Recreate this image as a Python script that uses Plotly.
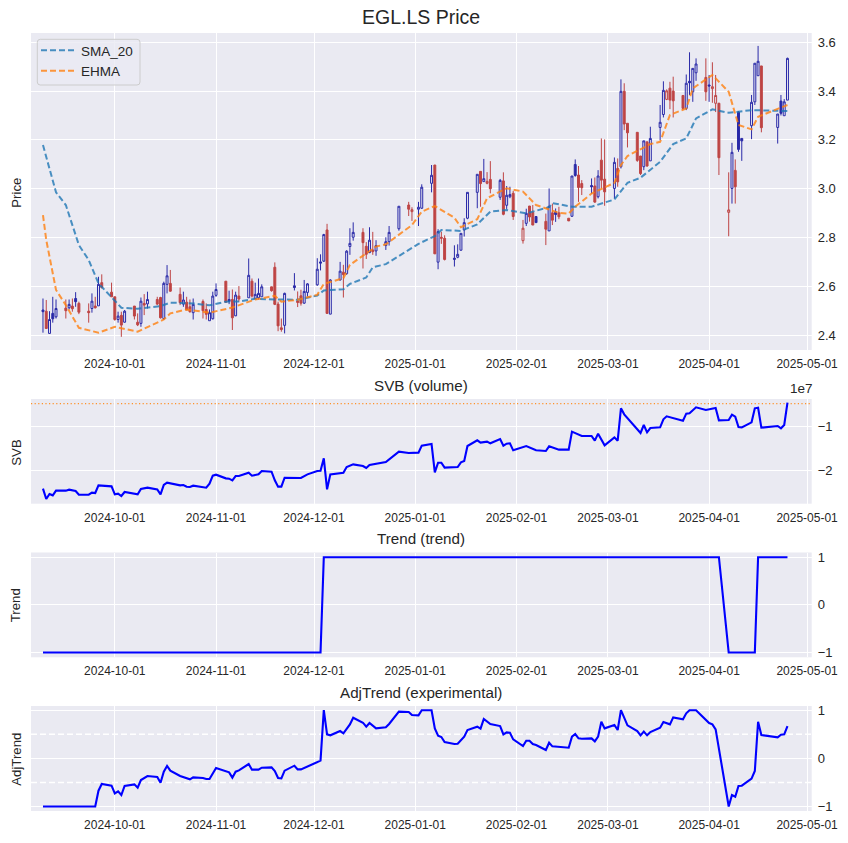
import numpy as np
import pandas as pd
import plotly.graph_objects as go

closed_days = ["2024-12-25", "2024-12-26", "2025-01-01", "2025-04-18", "2025-04-21"]
candle_dates = [d for d in pd.bdate_range("2024-09-09", "2025-04-25").strftime("%Y-%m-%d") if d not in closed_days]

opens = [2.503,2.498,2.407,2.489,2.475, 2.511,2.512,2.519,2.550,2.530, 2.498,2.509,2.519,2.520,2.615,
 2.576,2.557,2.464,2.481,2.453, 2.519,2.453,2.448,2.530,2.528, 2.546,2.554,2.468,2.608,2.612,
 2.567,2.527,2.535,2.516,2.492, 2.538,2.505,2.459,2.467,2.563, 2.621,2.546,2.546,2.479,2.560,
 2.553,2.621,2.550,2.553,2.557, 2.598,2.678,2.527,2.430,2.440, 2.602,2.540,2.561,2.531,2.575,
 2.606,2.700,2.703,2.831,2.486, 2.626,2.658,2.652,2.763,2.801, 2.821,2.764,2.738,2.749,2.745,
 2.767,2.783,2.836, 2.933,2.906,2.916,2.920, 3.022,3.097,2.699,2.801,2.797,
 2.715,2.719,2.748,2.831,2.879, 2.985,3.071,3.029,3.022,3.038, 2.965,3.032,2.932,2.967,2.981,
 2.787,2.858,2.929,2.903,2.886, 2.866,2.827,2.901,2.905,2.901, 2.879,2.887,3.099,3.056,3.021,
 3.013,3.011,2.967,3.117,3.039, 3.001,3.083,3.090,3.399,3.268, 3.231,3.134,3.090,3.192,3.114,
 3.251,3.304,3.366,3.412,3.400, 3.382,3.329,3.440,3.397,3.475, 3.456,3.425,3.410,3.350,3.350,
 2.903,3.001,3.075,3.314,3.206, 3.258,3.356,3.463,3.503, 3.251,3.359,3.299,3.363]
highs = [2.550,2.544,2.498,2.557,2.546, 2.546,2.546,2.550,2.576,2.537, 2.530,2.571,2.557,2.639,2.649,
 2.615,2.557,2.496,2.496,2.503, 2.519,2.489,2.554,2.568,2.578, 2.557,2.557,2.619,2.687,2.667,
 2.595,2.578,2.557,2.546,2.550, 2.546,2.530,2.505,2.578,2.612, 2.621,2.582,2.587,2.578,2.601,
 2.714,2.632,2.615,2.632,2.608, 2.598,2.698,2.537,2.468,2.574, 2.654,2.579,2.586,2.626,2.613,
 2.715,2.731,2.815,2.856,2.629, 2.700,2.688,2.748,2.838,2.862, 2.838,2.781,2.842,2.823,2.789,
 2.801,2.847,2.928, 2.946,2.924,2.946,3.018, 3.097,3.097,2.834,2.824,2.809,
 2.768,2.772,2.817,2.879,2.985, 3.059,3.071,3.122,3.068,3.113, 3.040,3.067,3.011,3.008,2.991,
 2.872,2.918,2.929,2.933,2.886, 2.898,3.001,2.939,2.919,2.926, 2.879,3.052,3.120,3.093,3.035,
 3.042,3.046,3.076,3.206,3.202, 3.128,3.124,3.448,3.432,3.268, 3.231,3.134,3.196,3.192,3.254,
 3.343,3.440,3.407,3.438,3.459, 3.382,3.468,3.559,3.493,3.534, 3.534,3.466,3.518,3.466,3.352,
 3.067,3.188,3.120,3.318,3.206, 3.384,3.514,3.585,3.503, 3.306,3.384,3.367,3.537]
lows = [2.410,2.427,2.407,2.451,2.468, 2.468,2.505,2.496,2.516,2.486, 2.451,2.492,2.509,2.520,2.591,
 2.557,2.459,2.451,2.393,2.451, 2.464,2.437,2.434,2.482,2.509, 2.523,2.468,2.462,2.571,2.578,
 2.523,2.516,2.503,2.492,2.464, 2.468,2.464,2.459,2.464,2.557, 2.533,2.527,2.421,2.478,2.537,
 2.553,2.554,2.546,2.546,2.557, 2.578,2.523,2.416,2.414,2.407, 2.583,2.515,2.521,2.528,2.558,
 2.602,2.665,2.700,2.489,2.486, 2.624,2.554,2.647,2.729,2.787, 2.673,2.712,2.736,2.729,2.725,
 2.749,2.767,2.828, 2.888,2.868,2.847,2.917, 2.985,2.733,2.670,2.774,2.706,
 2.681,2.715,2.746,2.804,2.875, 2.920,2.926,3.029,3.018,2.981, 2.954,2.891,2.917,2.961,2.872,
 2.775,2.847,2.865,2.851,2.861, 2.769,2.827,2.851,2.864,2.875, 2.868,2.885,3.049,2.946,2.974,
 2.980,2.942,2.960,3.001,2.930, 2.960,3.008,3.083,3.240,3.169, 3.110,3.056,3.076,3.090,3.114,
 3.199,3.292,3.363,3.326,3.292, 3.322,3.322,3.384,3.356,3.442, 3.360,3.356,3.352,3.314,3.056,
 2.805,2.939,2.939,3.151,3.114, 3.203,3.343,3.463,3.231, 3.185,3.300,3.299,3.363]
closes = [2.496,2.427,2.464,2.467,2.509, 2.500,2.526,2.508,2.537,2.494, 2.492,2.539,2.512,2.608,2.595,
 2.557,2.464,2.478,2.441,2.498, 2.478,2.442,2.539,2.523,2.546, 2.527,2.471,2.612,2.643,2.580,
 2.533,2.544,2.503,2.496,2.526, 2.500,2.485,2.492,2.560,2.587, 2.535,2.538,2.471,2.564,2.548,
 2.645,2.560,2.567,2.571,2.598, 2.582,2.526,2.438,2.423,2.571, 2.595,2.534,2.531,2.579,2.610,
 2.670,2.695,2.812,2.489,2.626, 2.662,2.648,2.744,2.776,2.821, 2.779,2.731,2.789,2.742,2.767,
 2.783,2.821,2.928, 2.916,2.914,2.924,3.006, 3.055,2.733,2.824,2.797,2.710,
 2.711,2.731,2.817,2.861,2.985, 3.059,3.021,3.041,3.030,3.000, 3.034,2.895,2.973,2.976,2.886,
 2.838,2.899,2.884,2.851,2.861, 2.834,2.928,2.871,2.894,2.885, 2.868,3.052,3.054,3.005,3.004,
 3.008,2.945,3.052,3.035,2.987, 3.108,3.028,3.399,3.265,3.229, 3.116,3.062,3.196,3.093,3.206,
 3.272,3.403,3.401,3.363,3.360, 3.329,3.432,3.434,3.493,3.511, 3.397,3.421,3.418,3.382,3.127,
 2.913,3.149,3.008,3.161,3.196, 3.354,3.514,3.522,3.250, 3.306,3.309,3.356,3.534]

sma_dates = ["2024-09-09","2024-09-13","2024-09-16","2024-09-20","2024-09-23","2024-09-26","2024-10-01","2024-10-03",
 "2024-10-08","2024-10-15","2024-10-18","2024-10-25","2024-10-30","2024-11-04","2024-11-08","2024-11-13","2024-11-19",
 "2024-11-22","2024-11-26","2024-12-02","2024-12-04","2024-12-10","2024-12-12","2024-12-17","2024-12-19","2024-12-23",
 "2024-12-27","2025-01-02","2025-01-07","2025-01-09","2025-01-15","2025-01-20","2025-01-24","2025-01-29","2025-02-04",
 "2025-02-11","2025-02-12","2025-02-18","2025-02-24","2025-03-03","2025-03-07","2025-03-11","2025-03-17","2025-03-21",
 "2025-03-25","2025-03-28","2025-04-02","2025-04-07","2025-04-14","2025-04-25"]
sma_values = [3.179,2.985,2.933,2.769,2.708,2.612,2.541,2.512,
 2.508,2.519,2.533,2.530,2.522,2.537,2.538,2.549,2.546,
 2.546,2.545,2.562,2.583,2.588,2.610,2.636,2.678,2.691,
 2.725,2.774,2.806,2.831,2.827,2.854,2.906,2.913,2.899,
 2.924,2.941,2.926,2.926,2.956,3.024,3.045,3.110,3.183,
 3.206,3.288,3.325,3.311,3.322,3.318]

ehma_dates = ["2024-09-09","2024-09-10","2024-09-13","2024-09-16","2024-09-20","2024-09-26","2024-10-01","2024-10-08",
 "2024-10-16","2024-10-18","2024-10-23","2024-10-30","2024-11-06","2024-11-13","2024-11-19","2024-11-21","2024-11-26",
 "2024-12-02","2024-12-04","2024-12-10","2024-12-12","2024-12-17","2024-12-20","2024-12-23","2024-12-31","2025-01-03",
 "2025-01-07","2025-01-13","2025-01-15","2025-01-20","2025-01-23","2025-01-29","2025-02-03","2025-02-07","2025-02-14",
 "2025-02-17","2025-02-19","2025-02-24","2025-03-03","2025-03-05","2025-03-07","2025-03-14","2025-03-17","2025-03-20",
 "2025-03-25","2025-03-27","2025-03-31","2025-04-02","2025-04-07","2025-04-10","2025-04-14","2025-04-16","2025-04-25"]
ehma_values = [2.892,2.790,2.585,2.523,2.430,2.410,2.434,2.414,
 2.464,2.489,2.505,2.492,2.513,2.546,2.561,2.537,2.545,
 2.565,2.610,2.633,2.688,2.733,2.763,2.772,2.851,2.906,
 2.929,2.881,2.842,2.875,2.961,3.002,2.988,2.933,2.901,
 2.898,2.926,2.980,3.024,3.097,3.134,3.183,3.192,3.302,
 3.329,3.411,3.448,3.466,3.397,3.261,3.243,3.295,3.343]

svb_dates = ["2024-09-09","2024-09-10","2024-09-11","2024-09-12","2024-09-13","2024-09-16","2024-09-17","2024-09-19","2024-09-20",
 "2024-09-23","2024-09-24","2024-09-25","2024-09-26","2024-09-30","2024-10-01","2024-10-02","2024-10-03","2024-10-04",
 "2024-10-08","2024-10-09","2024-10-11","2024-10-14","2024-10-15","2024-10-16","2024-10-17","2024-10-21","2024-10-22",
 "2024-10-23","2024-10-24","2024-10-25","2024-10-29","2024-10-30","2024-10-31","2024-11-01","2024-11-04","2024-11-05",
 "2024-11-06","2024-11-07","2024-11-08","2024-11-11","2024-11-12","2024-11-14","2024-11-15","2024-11-18","2024-11-19",
 "2024-11-20","2024-11-21","2024-11-22","2024-11-27","2024-11-29","2024-12-02","2024-12-03","2024-12-04","2024-12-05",
 "2024-12-06","2024-12-09","2024-12-10","2024-12-11","2024-12-13","2024-12-16","2024-12-17","2024-12-18","2024-12-20",
 "2024-12-23","2024-12-27","2024-12-30","2025-01-02","2025-01-03",
 "2025-01-06","2025-01-07","2025-01-08","2025-01-09","2025-01-10","2025-01-13","2025-01-14","2025-01-15","2025-01-16",
 "2025-01-17","2025-01-20","2025-01-21","2025-01-23","2025-01-24","2025-01-27","2025-01-28","2025-01-29","2025-01-30",
 "2025-01-31","2025-02-04","2025-02-06","2025-02-07","2025-02-10","2025-02-11","2025-02-14","2025-02-17","2025-02-18",
 "2025-02-21","2025-02-24","2025-02-25","2025-02-26","2025-02-28","2025-03-03","2025-03-04","2025-03-05","2025-03-06",
 "2025-03-11","2025-03-12","2025-03-13","2025-03-14","2025-03-17","2025-03-18","2025-03-19","2025-03-24","2025-03-25",
 "2025-03-26","2025-03-28","2025-03-31","2025-04-03","2025-04-04","2025-04-07","2025-04-08","2025-04-09","2025-04-10",
 "2025-04-11","2025-04-14","2025-04-15","2025-04-16","2025-04-17","2025-04-22","2025-04-23","2025-04-24","2025-04-25"]
svb_values_e7 = [-2.417,-2.652,-2.538,-2.568,-2.462,-2.462,-2.439,-2.470,-2.553,
 -2.553,-2.508,-2.515,-2.341,-2.364,-2.545,-2.530,-2.583,-2.492,
 -2.545,-2.424,-2.394,-2.432,-2.545,-2.333,-2.280,-2.341,-2.333,
 -2.371,-2.379,-2.348,-2.394,-2.303,-2.121,-2.098,-2.182,-2.189,
 -2.227,-2.129,-2.129,-2.053,-2.121,-2.091,-2.015,-2.030,-2.227,
 -2.371,-2.371,-2.167,-2.174,-2.091,-2.015,-2.008,-1.727,-2.432,
 -2.091,-2.068,-2.053,-1.924,-1.864,-1.902,-1.947,-1.879,-1.848,
 -1.811,-1.576,-1.606,-1.598,-1.439,
 -1.402,-2.045,-1.826,-1.826,-1.939,-1.932,-1.924,-1.818,-1.788,
 -1.447,-1.318,-1.371,-1.348,-1.386,-1.288,-1.439,-1.394,-1.386,
 -1.545,-1.447,-1.515,-1.545,-1.561,-1.455,-1.530,-1.530,-1.121,
 -1.220,-1.220,-1.326,-1.167,-1.432,-1.250,-1.326,-0.591,-0.727,
 -1.152,-0.970,-1.136,-1.038,-1.023,-0.841,-0.773,-0.871,-0.712,
 -0.705,-0.568,-0.629,-0.583,-0.864,-0.856,-0.735,-0.780,-1.015,
 -1.023,-0.909,-0.591,-0.576,-1.030,-0.992,-1.045,-0.970,-0.462]
svb_level_e7 = -0.485

trend_dates = ["2024-09-09","2024-12-03","2024-12-04","2025-04-04","2025-04-07","2025-04-15","2025-04-16","2025-04-25"]
trend_values = [-1, -1, 1, 1, -1, -1, 1, 1]

adj_dates = ["2024-09-09","2024-09-25","2024-09-26","2024-09-27","2024-09-30","2024-10-01","2024-10-02","2024-10-03","2024-10-04",
 "2024-10-07","2024-10-08","2024-10-09","2024-10-11","2024-10-14","2024-10-15","2024-10-16","2024-10-17","2024-10-18",
 "2024-10-21","2024-10-23","2024-10-24","2024-10-25","2024-10-28","2024-10-29","2024-10-30","2024-11-01","2024-11-05",
 "2024-11-06","2024-11-07","2024-11-08","2024-11-11","2024-11-12","2024-11-14","2024-11-15","2024-11-18","2024-11-19",
 "2024-11-20","2024-11-21","2024-11-22","2024-11-25","2024-11-26","2024-11-27","2024-12-03","2024-12-04","2024-12-05",
 "2024-12-06","2024-12-09","2024-12-10","2024-12-12","2024-12-13","2024-12-16","2024-12-17","2024-12-18","2024-12-20",
 "2024-12-23","2024-12-24","2024-12-27","2024-12-30","2024-12-31","2025-01-02","2025-01-03",
 "2025-01-06","2025-01-07","2025-01-08","2025-01-09","2025-01-10","2025-01-13","2025-01-14","2025-01-16","2025-01-17",
 "2025-01-20","2025-01-21","2025-01-22","2025-01-24","2025-01-27","2025-01-28","2025-01-29","2025-01-30","2025-01-31",
 "2025-02-03","2025-02-04","2025-02-05","2025-02-06","2025-02-07","2025-02-10","2025-02-11","2025-02-12","2025-02-17",
 "2025-02-18","2025-02-19","2025-02-20","2025-02-21","2025-02-24","2025-02-25","2025-02-26","2025-02-27","2025-02-28",
 "2025-03-03","2025-03-04","2025-03-05","2025-03-07","2025-03-10","2025-03-11","2025-03-12","2025-03-13","2025-03-14",
 "2025-03-17","2025-03-18","2025-03-20","2025-03-21","2025-03-24","2025-03-25","2025-03-26","2025-03-28","2025-04-01",
 "2025-04-02","2025-04-03","2025-04-07","2025-04-08","2025-04-09","2025-04-10","2025-04-11","2025-04-14","2025-04-15",
 "2025-04-16","2025-04-17","2025-04-22","2025-04-23","2025-04-24","2025-04-25"]
adj_values = [-1,-1,-0.671,-0.533,-0.567,-0.727,-0.685,-0.761,-0.574,
 -0.540,-0.609,-0.450,-0.367,-0.388,-0.505,-0.277,-0.159,-0.256,
 -0.367,-0.422,-0.436,-0.394,-0.408,-0.429,-0.429,-0.201,-0.291,
 -0.401,-0.277,-0.249,-0.118,-0.235,-0.235,-0.194,-0.187,-0.263,
 -0.408,-0.415,-0.256,-0.152,-0.228,-0.228,-0.048,1.0,0.498,
 0.478,0.567,0.519,0.706,0.844,0.740,0.657,0.734,0.623,
 0.644,0.713,0.969,0.962,0.900,0.893,1.0,
 1.0,0.623,0.471,0.443,0.339,0.298,0.304,0.450,0.588,
 0.657,0.616,0.817,0.713,0.671,0.498,0.540,0.533,0.394,
 0.256,0.367,0.367,0.298,0.277,0.173,0.325,0.249,0.221,
 0.450,0.505,0.415,0.408,0.415,0.353,0.450,0.761,0.623,
 0.692,0.588,1.0,0.685,0.567,0.478,0.554,0.478,0.547,
 0.637,0.754,0.706,0.851,0.810,0.934,1.0,1.0,0.734,
 0.706,0.602,-1.0,-0.761,-0.796,-0.574,-0.567,-0.422,-0.263,
 0.761,0.484,0.436,0.491,0.498,0.671]

date_ticks = ["2024-10-01","2024-11-01","2024-12-01","2025-01-01","2025-02-01","2025-03-01","2025-04-01","2025-05-01"]
x_range = ["2024-09-05 08:00", "2025-05-02 10:00"]

W, H = 848, 843
TXT = "#262626"
BG = "#EAEAF2"
BLUE_C = "#2A2AA8"
RED_C = "#BE4444"
FONT = "Liberation Sans"

closes_arr = np.array(closes)
rising = np.r_[True, closes_arr[1:] > closes_arr[:-1]]

def candle(mask, col):
    idx = np.where(mask)[0]
    return go.Candlestick(
        x=[candle_dates[i] for i in idx],
        open=[opens[i] for i in idx], high=[highs[i] for i in idx],
        low=[lows[i] for i in idx], close=[closes[i] for i in idx],
        increasing=dict(line=dict(color=col, width=1), fillcolor="rgba(0,0,0,0)"),
        decreasing=dict(line=dict(color=col, width=1), fillcolor=col),
        whiskerwidth=0, showlegend=False, xaxis="x", yaxis="y", hoverinfo="skip")

fig = go.Figure()
fig.add_trace(candle(rising, BLUE_C))
fig.add_trace(candle(~rising, RED_C))
fig.add_trace(go.Scatter(x=sma_dates, y=sma_values, name="SMA_20", mode="lines",
    line=dict(color="rgba(31,119,180,0.8)", width=2, dash="6px,3px")))
fig.add_trace(go.Scatter(x=ehma_dates, y=ehma_values, name="EHMA", mode="lines",
    line=dict(color="rgba(255,127,14,0.8)", width=2, dash="6px,3px")))
fig.add_trace(go.Scatter(x=svb_dates, y=np.array(svb_values_e7) * 1e7, mode="lines", showlegend=False,
    line=dict(color="#0000FF", width=2.1), xaxis="x2", yaxis="y2"))
fig.add_trace(go.Scatter(x=trend_dates, y=trend_values, mode="lines", showlegend=False,
    line=dict(color="#0000FF", width=2.1), xaxis="x3", yaxis="y3"))
fig.add_trace(go.Scatter(x=adj_dates, y=adj_values, mode="lines", showlegend=False,
    line=dict(color="#0000FF", width=2.1), xaxis="x4", yaxis="y4"))

def dom(top, bottom):
    return [(H - bottom) / H, (H - top) / H]

x_dom = [31 / W, 811.7 / W]
xkw = dict(range=x_range, type="date", tickvals=date_ticks, tickformat="%Y-%m-%d", automargin=False,
           showgrid=True, gridcolor="white", gridwidth=1.3, zeroline=False, showline=False, ticks="",
           ticklabelstandoff=5,
           tickfont=dict(size=12, color=TXT, family=FONT), domain=x_dom, rangeslider=dict(visible=False))
ykw = dict(side="right", showgrid=True, gridcolor="white", gridwidth=1.3, zeroline=False, showline=False,
           automargin=False, ticks="", ticklabelstandoff=5, tickfont=dict(size=13, color=TXT, family=FONT))

fig.update_layout(
    width=W, height=H, margin=dict(l=0, r=0, t=0, b=0, autoexpand=False), autosize=False,
    paper_bgcolor="white", plot_bgcolor=BG, font=dict(family=FONT, color=TXT),
    boxmode="overlay", boxgap=0.15,
    xaxis=dict(**xkw, anchor="y"), xaxis2=dict(**xkw, anchor="y2"),
    xaxis3=dict(**xkw, anchor="y3"), xaxis4=dict(**xkw, anchor="y4"),
    yaxis=dict(**ykw, domain=dom(33, 350), range=[2.339, 3.638], anchor="x",
               tickvals=[2.4, 2.6, 2.8, 3.0, 3.2, 3.4, 3.6], tickformat=".1f"),
    yaxis2=dict(**ykw, domain=dom(399, 503.7), range=[-2.758e7, -0.379e7], anchor="x2",
                tickvals=[-2e7, -1e7], ticktext=["\u22122", "\u22121"]),
    yaxis3=dict(**ykw, domain=dom(552.5, 657.3), range=[-1.1, 1.1], anchor="x3",
                tickvals=[-1, 0, 1], ticktext=["\u22121", "0", "1"]),
    yaxis4=dict(**ykw, domain=dom(706, 811), range=[-1.093, 1.087], anchor="x4",
                tickvals=[-1, 0, 1], ticktext=["\u22121", "0", "1"]),
    legend=dict(x=36 / W, y=(H - 35) / H, xanchor="left", yanchor="top",
                bgcolor="rgba(0,0,0,0)", borderwidth=0,
                font=dict(size=13.5, color=TXT, family=FONT), itemwidth=35),
)

# rounded legend frame
lx0, lx1, ly0, ly1, lr = 37.3 / W, 140 / W, (H - 85) / H, (H - 39.3) / H, 3
rx, ry = lr / W, lr / H
fig.add_shape(type="path", xref="paper", yref="paper", layer="above",
              path=(f"M {lx0+rx},{ly1} L {lx1-rx},{ly1} Q {lx1},{ly1} {lx1},{ly1-ry} "
                    f"L {lx1},{ly0+ry} Q {lx1},{ly0} {lx1-rx},{ly0} "
                    f"L {lx0+rx},{ly0} Q {lx0},{ly0} {lx0},{ly0+ry} "
                    f"L {lx0},{ly1-ry} Q {lx0},{ly1} {lx0+rx},{ly1} Z"),
              fillcolor="rgba(234,234,242,0.8)", line=dict(color="#CCCCCC", width=1))

for y0 in (0.5, -0.5):
    fig.add_shape(type="line", xref="x4 domain", yref="y4", x0=0, x1=1, y0=y0, y1=y0, layer="below",
                  line=dict(color="white", width=1.5, dash="6px,3px"))
fig.add_shape(type="line", xref="x2 domain", yref="y2", x0=0, x1=1, y0=svb_level_e7 * 1e7, y1=svb_level_e7 * 1e7,
              layer="below", line=dict(color="rgba(255,140,30,0.95)", width=1.2, dash="1.2px,2.4px"))

def label(x, y, text, size, angle=0, anchor="center"):
    fig.add_annotation(x=x / W, y=(H - y) / H, xref="paper", yref="paper", text=text, showarrow=False,
                       xanchor=anchor, yanchor="middle", textangle=angle,
                       font=dict(size=size, color=TXT, family=FONT))

label(421, 17.5, "EGL.LS Price", 19.5)
label(421, 385, "SVB (volume)", 15.2)
label(421, 538, "Trend (trend)", 15.2)
label(421, 692, "AdjTrend (experimental)", 15.2)
label(801.5, 389, "1e7", 13.5)
label(15.7, 193, "Price", 13.2, -90)
label(15.7, 452, "SVB", 13.2, -90)
label(15.7, 605.5, "Trend", 13.2, -90)
label(15.7, 759, "AdjTrend", 13.2, -90)

fig.write_html("out.html", config=dict(displayModeBar=False),
               post_script="document.body.style.margin='0';")
